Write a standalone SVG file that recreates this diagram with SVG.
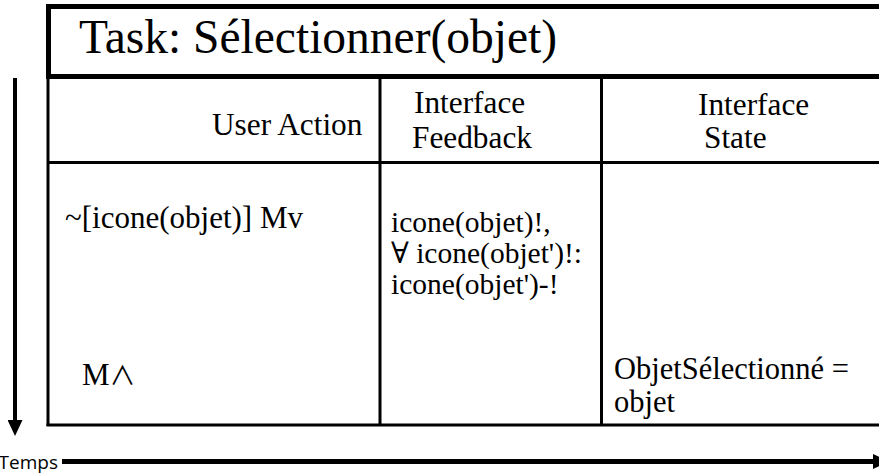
<svg xmlns="http://www.w3.org/2000/svg" width="879" height="474" viewBox="0 0 879 474">
  <style>
    .serif { font-family: "Liberation Serif", "Times New Roman", "DejaVu Serif", serif; fill: #000; }
    .title { font-size: 47.5px; }
    .head { font-size: 31.3px; }
    .act { font-size: 31px; }
    .fb { font-size: 29.5px; }
    .st { font-size: 30.5px; }
    .sym { font-family: "Noto Sans CJK JP", "DejaVu Serif", serif; }
    .rule { stroke: #000; stroke-width: 3; fill: none; }
    .axis { stroke: #000; fill: none; }
    .sans { font-family: "Open Sans", "Liberation Sans", sans-serif; font-size: 19px; fill: #000; }
  </style>
  <defs>
    <marker id="head" viewBox="0 0 16 15" refX="0" refY="7.5" markerWidth="16" markerHeight="15" markerUnits="userSpaceOnUse" orient="auto">
      <path d="M0,0 L16,7.5 L0,15 z" fill="#000"/>
    </marker>
  </defs>
  <rect width="879" height="474" fill="#fff"/>

  <!-- task title box -->
  <g id="title">
    <rect x="48.5" y="6.5" width="860" height="70" fill="none" stroke="#000" stroke-width="5"/>
    <text class="serif title" x="79" y="53">Task: Sélectionner(objet)</text>
  </g>

  <!-- table grid -->
  <g id="grid">
    <line class="rule" x1="48" y1="78" x2="48" y2="426"/>
    <line class="rule" x1="46.5" y1="425" x2="890" y2="425"/>
    <line class="rule" x1="48" y1="162.5" x2="890" y2="162.5"/>
    <line class="rule" x1="380" y1="78" x2="380" y2="425"/>
    <line class="rule" x1="601.5" y1="78" x2="601.5" y2="425"/>
  </g>

  <!-- column headers -->
  <g id="head-action">
    <text class="serif head" x="212" y="135">User Action</text>
  </g>
  <g id="head-feedback">
    <text class="serif head" x="414" y="113">Interface<tspan x="412" y="148">Feedback</tspan></text>
  </g>
  <g id="head-state">
    <text class="serif head" x="698" y="115">Interface<tspan x="704" y="148">State</tspan></text>
  </g>

  <!-- body cells -->
  <g id="action">
    <text class="serif act" x="65" y="228">~[icone(objet)] Mv</text>
    <text class="serif act" x="82" y="385">M<tspan class="sym" font-size="26">∧</tspan></text>
  </g>
  <g id="feedback">
    <text class="serif fb" x="391" y="232">icone(objet)!,<tspan x="391" y="263">∀ icone(objet')!:</tspan><tspan x="391" y="294">icone(objet')-!</tspan></text>
  </g>
  <g id="state">
    <text class="serif st" x="614" y="379">ObjetSélectionné =<tspan x="614" y="412">objet</tspan></text>
  </g>

  <!-- time axes -->
  <g id="connectors">
    <line class="axis" stroke-width="4" x1="15" y1="78" x2="15" y2="420" marker-end="url(#head)"/>
    <line class="axis" stroke-width="5" x1="62" y1="461.5" x2="873" y2="461.5" marker-end="url(#head)"/>
    <text class="sans" x="58" y="469" text-anchor="end">Temps</text>
  </g>
</svg>
